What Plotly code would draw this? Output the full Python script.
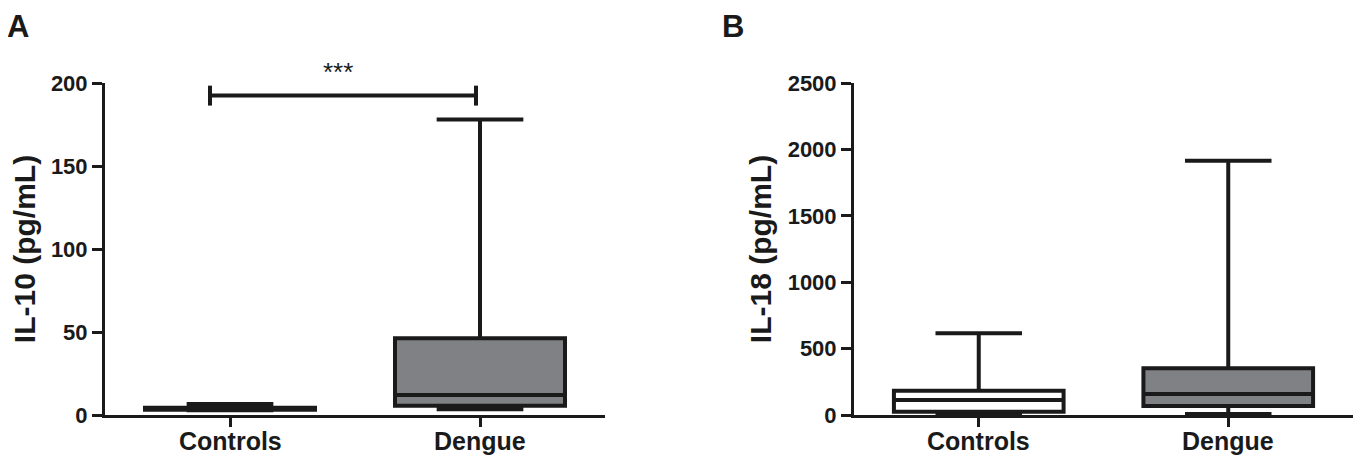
import plotly.graph_objects as go

categories = ["Controls", "Dengue"]

# Panel A: IL-10 (pg/mL) box statistics
il10_lower = [2.8, 3.4]
il10_q1 = [3.2, 5.6]
il10_median = [3.8, 12.0]
il10_q3 = [4.4, 46.2]
il10_upper = [6.6, 178.0]

# Panel B: IL-18 (pg/mL) box statistics
il18_lower = [13, 8]
il18_q1 = [25, 68]
il18_median = [113, 158]
il18_q3 = [183, 352]
il18_upper = [616, 1915]

fills = ["white", "#808184"]

il10_ticks = [0, 50, 100, 150, 200]
il18_ticks = [0, 500, 1000, 1500, 2000, 2500]

FONT = "Liberation Sans, Arial, sans-serif"

# page body has an 8px margin; the figure is sized/positioned to compensate
W, H, OFF = 1353, 449, 8

fig = go.Figure()

def add_boxes(lo, q1, med, q3, hi, xa, ya):
    for i, c in enumerate(categories):
        fig.add_trace(go.Box(
            x=[c], lowerfence=[lo[i]], q1=[q1[i]], median=[med[i]], q3=[q3[i]],
            upperfence=[hi[i]], fillcolor=fills[i],
            line=dict(color="#1a1a1a", width=4), whiskerwidth=0.51,
            width=0.68, boxpoints=False, showlegend=False,
            xaxis=xa, yaxis=ya, hoverinfo="skip",
        ))

add_boxes(il10_lower, il10_q1, il10_median, il10_q3, il10_upper, "x", "y")
add_boxes(il18_lower, il18_q1, il18_median, il18_q3, il18_upper, "x2", "y2")

def px_x(p):
    return (p - OFF) / W

def px_y(p):
    return (H - (p - OFF)) / H

ydom = [px_y(415), px_y(83)]

xcommon = dict(
    type="category", categoryorder="array", categoryarray=categories,
    range=[-0.5, 1.5], showline=True, linecolor="#1a1a1a", linewidth=3,
    ticks="outside", ticklen=9, tickwidth=3, tickcolor="#1a1a1a",
    showticklabels=False,
    showgrid=False, zeroline=False, fixedrange=True, automargin=False,
)
ycommon = dict(
    showline=True, linecolor="#1a1a1a", linewidth=3,
    ticks="outside", ticklen=10, tickwidth=3, tickcolor="#1a1a1a",
    showgrid=False, zeroline=False, fixedrange=True, automargin=False,
    tickfont=dict(family=FONT, size=22, color="#1a1a1a", weight="bold"),
    title_font=dict(family=FONT, size=30, color="#1a1a1a", weight="bold"),
    title_standoff=8, domain=ydom,
)

fig.update_layout(
    width=W, height=H,
    margin=dict(l=0, r=0, t=0, b=0, autoexpand=False),
    paper_bgcolor="white", plot_bgcolor="white",
    xaxis=dict(domain=[px_x(105), px_x(605)], anchor="y", **xcommon),
    xaxis2=dict(domain=[px_x(854), px_x(1353)], anchor="y2", **xcommon),
    yaxis=dict(range=[0, 200], tickvals=il10_ticks, anchor="x",
               title_text="IL-10 (pg/mL)", **ycommon),
    yaxis2=dict(range=[0, 2500], tickvals=il18_ticks, anchor="x2",
                title_text="IL-18 (pg/mL)", **ycommon),
)

# category labels placed just under the x axes
for xa in ("x", "x2"):
    for c in categories:
        fig.add_annotation(xref=xa, yref="paper", x=c, y=px_y(425),
                           text="<b>" + c + "</b>", showarrow=False, yanchor="top",
                           font=dict(family=FONT, size=25, color="#1a1a1a"))

# significance bracket in panel A
sig_left, sig_right, sig_y = -0.08, 0.984, 192.4
fig.add_shape(type="line", xref="x", yref="y", x0=sig_left, x1=sig_right,
              y0=sig_y, y1=sig_y, line=dict(color="#1a1a1a", width=4))
for xv in (sig_left, sig_right):
    fig.add_shape(type="line", xref="x", yref="y", x0=xv, x1=xv,
                  y0=sig_y - 6, y1=sig_y + 6, line=dict(color="#1a1a1a", width=4))
fig.add_annotation(xref="x", yref="y", x=(sig_left + sig_right) / 2 - 0.02, y=sig_y + 4,
                   text="***", showarrow=False, yanchor="bottom",
                   font=dict(family=FONT, size=26, color="#1a1a1a"))

# panel letters
fig.add_annotation(xref="paper", yref="paper", x=px_x(6), y=px_y(8),
                   text="<b>A</b>", showarrow=False, xanchor="left", yanchor="top",
                   borderpad=0, font=dict(family=FONT, size=31, color="#1a1a1a"))
fig.add_annotation(xref="paper", yref="paper", x=px_x(721), y=px_y(8),
                   text="<b>B</b>", showarrow=False, xanchor="left", yanchor="top",
                   borderpad=0, font=dict(family=FONT, size=31, color="#1a1a1a"))

fig.write_html("out.html")
